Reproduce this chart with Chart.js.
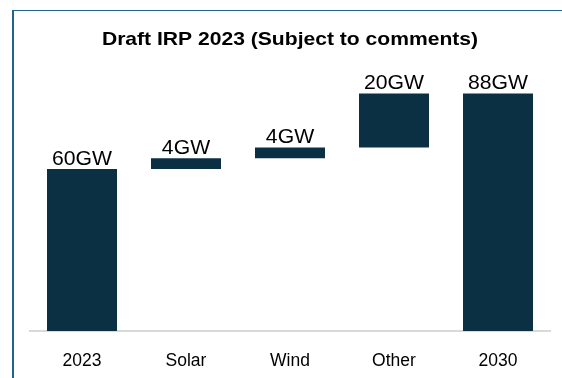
<!DOCTYPE html>
<html>
<head>
<meta charset="utf-8">
<script src="https://cdn.jsdelivr.net/npm/chart.js@4"></script>
<style>
	body { margin: 0; background: #fff; }
	#wrap { position: relative; width: 562px; height: 378px; }
	#frame { position: absolute; left: 12px; top: 10px; right: 0; bottom: 0; border-left: 2px solid #1f6391; border-top: 1px solid #1f6391; }
	canvas { position: absolute; left: 0; top: 0; }
</style>
</head>
<body>
<div id="wrap">
	<div id="frame"></div>
	<canvas id="irpChart" width="562" height="378"></canvas>
</div>
<script>
// 단계별 용량 (GW)
const categories = ['2023', 'Solar', 'Wind', 'Other', '2030'];
const bases = [0, 60, 64, 68, 0];
const amounts = [60, 4, 4, 20, 88];
const chartTitle = 'Draft IRP 2023 (Subject to comments)';
const barColor = '#0c3043';
const fontFamily = "'Liberation Sans', Arial, sans-serif";

document.addEventListener("DOMContentLoaded", function(){
	const ctx = document.getElementById('irpChart').getContext('2d');

	// 가로로 살짝 넓힌 글자
	function wideText(c, text, x, y, sx) {
		c.save();
		c.translate(x, y);
		c.scale(sx, 1);
		c.fillText(text, 0, 0);
		c.restore();
	}

	// 막대 위 값 라벨 + 제목
	const labelPlugin = {
		id: 'labelPlugin',
		afterDatasetsDraw(chart) {
			const c = chart.ctx;
			const meta = chart.getDatasetMeta(0);
			c.save();
			c.fillStyle = '#000';
			c.textAlign = 'center';
			c.textBaseline = 'alphabetic';
			c.font = '20px ' + fontFamily;
			meta.data.forEach(function(bar, i){
				wideText(c, amounts[i] + 'GW', bar.x, bar.y - 4, 1.06);
			});
			c.font = 'bold 19px ' + fontFamily;
			wideText(c, chartTitle, 290, 45, 1.11);
			c.restore();
		}
	};

	const irpChart = new Chart(ctx, {
		type: 'bar',
		data: {
			labels: categories,
			datasets: [
				{
					label: 'IRP',
					data: bases.map((b, i) => [b, b + amounts[i]]),
					backgroundColor: barColor,
					borderSkipped: false,
					categoryPercentage: 1,
					barPercentage: 0.673
				}
			]
		},
		options: {
			responsive: false,
			animation: false,
			layout: { padding: { left: 30, right: 12, top: 61, bottom: 6 } },
			plugins: {
				legend: { display: false },
				tooltip: { enabled: false }
			},
			scales: {
				x: {
					grid: { display: false },
					border: { display: true, color: '#d9d9d9', width: 2 },
					ticks: { color: '#000', padding: 12, font: { family: fontFamily, size: 17.5 } },
					afterFit: function(scale) { scale.height = 41; }
				},
				y: {
					display: false,
					min: 0,
					max: 100
				}
			}
		},
		plugins: [labelPlugin]
	});
});
</script>
</body>
</html>
